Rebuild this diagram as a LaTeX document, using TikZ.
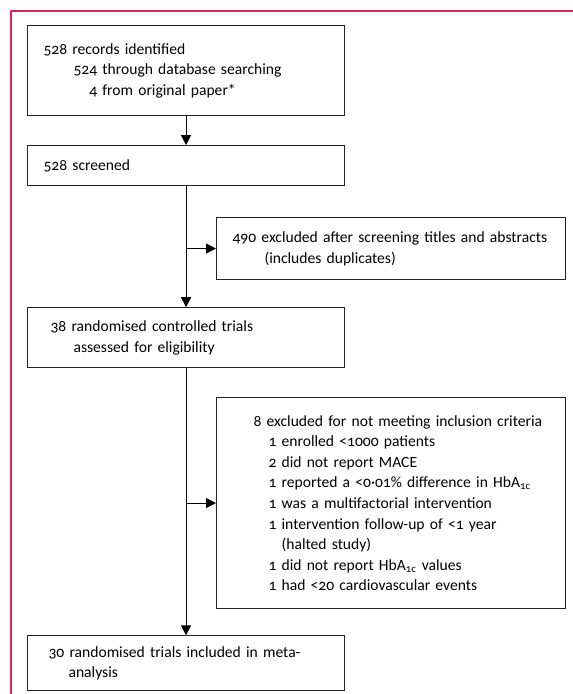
\documentclass[tikz,border=0pt]{standalone}
\usepackage{fontspec}
\setmainfont{Carlito}[Numbers=OldStyle]
\usepackage{tikz}
\usetikzlibrary{arrows.meta, positioning}
\definecolor{framepink}{RGB}{214, 38, 92}
\definecolor{boxgray}{RGB}{35, 35, 35}
\hyphenpenalty=10000

\begin{document}
\begin{tikzpicture}[x=1pt, y=-1pt,
			flowbox/.style={rectangle, draw=boxgray, line width=1.1pt, align=left, anchor=north west, inner ysep=0pt, inner xsep=16pt, font=\fontsize{15.6}{20.6}\selectfont},
			mainbox/.style={flowbox, minimum width=317pt, text width=285pt},
			sidebox/.style={flowbox, minimum width=349pt, inner xsep=8pt, text width=333pt},
			arrow/.style={-{Triangle[length=10pt, width=10pt]}, line width=1.1pt, draw=black}
		]
		\useasboundingbox (0,0) rectangle (573,694);
		\draw[framepink, line width=1.1pt] (11,694) -- (11,11) -- (573,11);
		
		\node[mainbox, minimum height=90pt] (records) at (27,25) {528 records identified\\ \hspace*{30pt}524 through database searching\\ \hspace*{30pt}\phantom{52}4 from original paper*};
		\node[mainbox, minimum height=40pt, below=29pt of records] (screened) {528 screened};
		\node[sidebox, minimum height=62pt] (dropscreen) at (216,217) {\hspace*{8pt}490 excluded after screening titles and abstracts\\ \hspace*{40pt}(includes duplicates)};
		\node[mainbox, minimum height=60pt, inner xsep=23pt, text width=271pt, below=121pt of screened] (eligible) {38 randomised controlled trials\\ \hspace*{23pt}assessed for eligibility};
		\node[sidebox, minimum height=211pt] (dropcrit) at (216,397) {\hspace*{29pt}8 excluded for not meeting inclusion criteria\\
			\hspace*{44pt}1 enrolled <1000 patients\\
			\hspace*{44pt}2 did not report MACE\\
			\hspace*{44pt}1 reported a <0·01\% difference in HbA\textsubscript{1c}\\
			\hspace*{44pt}1 was a multifactorial intervention\\
			\hspace*{44pt}1 intervention follow-up of <1 year\\
			\hspace*{44pt}\phantom{1 }(halted study)\\
			\hspace*{44pt}1 did not report HbA\textsubscript{1c} values\\
			\hspace*{44pt}1 had <20 cardiovascular events};
		\node[mainbox, minimum height=55pt, inner xsep=21pt, text width=275pt, below=267pt of eligible] (included) {30 randomised trials included in meta-\\ \hspace*{20pt}analysis};
		
		\coordinate (split1) at (screened.south |- dropscreen.west);
		\coordinate (split2) at (eligible.south |- dropcrit.west);
		
		\draw[arrow] (records) -- (screened);
		\draw[arrow] (screened) -- (eligible);
		\draw[arrow] (split1) -- (dropscreen);
		\draw[arrow] (eligible) -- (included);
		\draw[arrow] (split2) -- (dropcrit);
		\end{tikzpicture}
\end{document}
